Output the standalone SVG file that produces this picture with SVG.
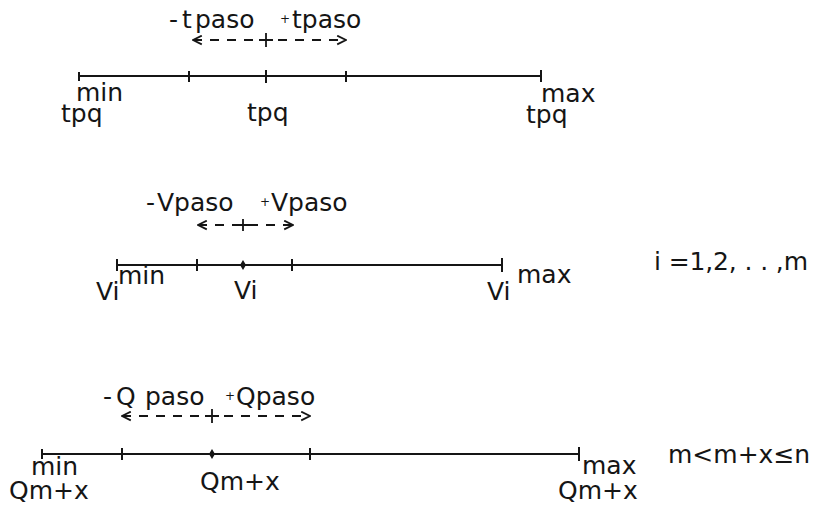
<svg xmlns="http://www.w3.org/2000/svg" width="818" height="506" viewBox="0 0 818 506">
  <defs>
    <style>
      .ln{stroke:#151515;stroke-width:2;fill:none}
      .tk{stroke:#151515;stroke-width:2}
      .ar{stroke:#151515;stroke-width:1.8;fill:none;stroke-dasharray:9 8}
      .cr{stroke:#151515;stroke-width:1.8}
      .t{font-family:"DejaVu Sans","Liberation Sans",sans-serif;font-size:25px;fill:#151515}
      .sm{font-size:12px}
    </style>
    <marker id="hd" viewBox="0 0 10 10" refX="9" refY="5" markerWidth="11" markerHeight="11" markerUnits="userSpaceOnUse" orient="auto-start-reverse">
      <path d="M1,1 L9,5 L1,9" fill="none" stroke="#151515" stroke-width="1.6"/>
    </marker>
  </defs>
  <rect width="818" height="506" fill="#ffffff"/>

  <!-- scale for t_pq -->
  <g id="scale-t">
    <path class="ln" d="M79,76 H541"/>
    <path class="tk" d="M79,72 V81 M189,71 V82 M266,70 V83 M346,71 V82 M541,70 V82"/>
    <text class="t" y="28"><tspan x="169">-</tspan><tspan x="182">t</tspan><tspan x="195">paso</tspan></text>
    <text class="t" y="28"><tspan class="sm" x="280" dy="-5">+</tspan><tspan x="292" dy="5">tpaso</tspan></text>
    <text class="t" x="76" y="101">min</text>
    <text class="t" x="61" y="122">tpq</text>
    <text class="t" x="247" y="121">tpq</text>
    <text class="t" x="526" y="123">tpq</text>
    <text class="t" x="541" y="102">max</text>
  </g>

  <!-- scale for V_i -->
  <g id="scale-v">
    <path class="ln" d="M117,265 H502"/>
    <path class="tk" d="M117,259 V271 M197,259 V271 M292,259 V271 M502,258 V272"/>
    <path d="M243,260 L246,265 L243,270 L240,265 Z" fill="#151515"/>
    <text class="t" y="211"><tspan x="146">-</tspan><tspan x="157">Vpaso</tspan></text>
    <text class="t" y="211"><tspan class="sm" x="260" dy="-5">+</tspan><tspan x="271" dy="5">Vpaso</tspan></text>
    <text class="t" x="118" y="284">min</text>
    <text class="t" x="96" y="300">Vi</text>
    <text class="t" x="234" y="299">Vi</text>
    <text class="t" x="487" y="300">Vi</text>
    <text class="t" x="517" y="283">max</text>
    <text class="t" x="654" y="270" textLength="154">i =1,2, . . ,m</text>
  </g>

  <!-- scale for Q_m+x -->
  <g id="scale-q">
    <path class="ln" d="M42,454 H579"/>
    <path class="tk" d="M42,449 V459 M122,448 V460 M310,448 V460 M579,447 V461"/>
    <path d="M212,449 L215,454 L212,459 L209,454 Z" fill="#151515"/>
    <text class="t" y="405"><tspan x="103">-</tspan><tspan x="116">Q</tspan><tspan x="145">paso</tspan></text>
    <text class="t" y="405"><tspan class="sm" x="225" dy="-5">+</tspan><tspan x="236" dy="5">Qpaso</tspan></text>
    <text class="t" x="31" y="475">min</text>
    <text class="t" x="9" y="499">Qm+x</text>
    <text class="t" x="200" y="490">Qm+x</text>
    <text class="t" x="582" y="474">max</text>
    <text class="t" x="558" y="499">Qm+x</text>
    <text class="t" x="668" y="463">m&lt;m+x≤n</text>
  </g>

  <!-- dashed step arrows -->
  <g id="connectors">
    <path class="ar" d="M193,40 H346" marker-start="url(#hd)" marker-end="url(#hd)"/>
    <path class="cr" d="M259,40 H273 M266,33 V47"/>
    <path class="ar" d="M198,225 H293" marker-start="url(#hd)" marker-end="url(#hd)"/>
    <path class="cr" d="M237,225 H249 M243,219 V231"/>
    <path class="ar" d="M122,416 H310" marker-start="url(#hd)" marker-end="url(#hd)"/>
    <path class="cr" d="M205,416 H219 M212,409 V423"/>
  </g>
</svg>
